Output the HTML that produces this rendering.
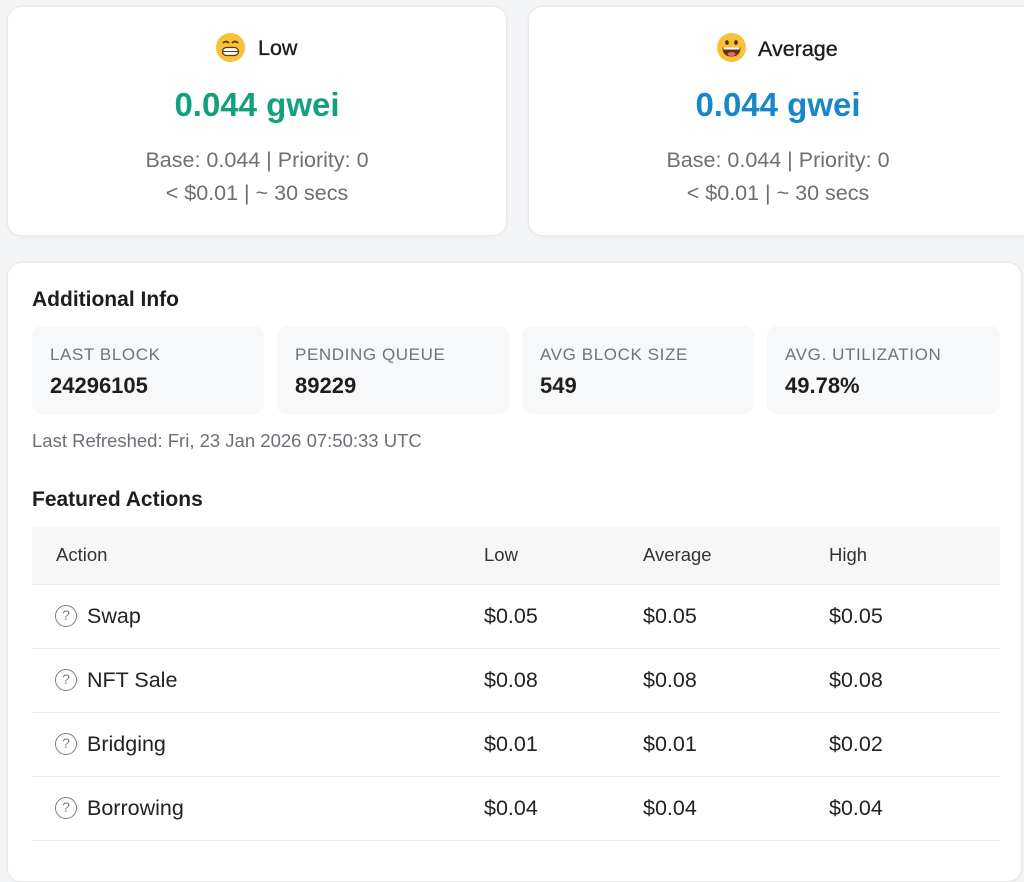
<!DOCTYPE html>
<html><head><meta charset="utf-8">
<style>
*{box-sizing:border-box;margin:0;padding:0}
body{width:1024px;height:843px;overflow:hidden;background:#f3f4f5;font-family:"Liberation Sans",Arial,sans-serif;color:#212121;position:relative}
.card{position:absolute;background:#fff;border-radius:14px;border:1px solid #e6e7e9;box-shadow:0 1px 3px rgba(0,0,0,0.04)}
.abs{position:absolute;white-space:nowrap}
.c{text-align:center}
.title{font-size:21.5px;line-height:24px;color:#1e1e1e;-webkit-text-stroke:0.35px #1e1e1e}
.big{font-size:33px;line-height:38px;font-weight:bold}
.sub{font-size:21.5px;line-height:26px;color:#6c6f75}
.h{font-size:21px;line-height:24px;font-weight:bold;color:#1e1e1e}
.stat{position:absolute;top:326px;width:232px;height:88px;background:#f7f8f9;border-radius:10px}
.stat .l{position:absolute;left:18px;top:19px;font-size:17px;line-height:20px;color:#707378;letter-spacing:0.6px;white-space:nowrap}
.stat .v{position:absolute;left:18px;top:47px;font-size:22px;line-height:26px;font-weight:bold;color:#1e1e1e}
.th{font-size:18.5px;line-height:22px;color:#333;top:544px}
.row{position:absolute;left:32px;width:968px;height:64px;border-bottom:1px solid #e9eaeb}
.row span{position:absolute;top:18px;font-size:21.5px;line-height:26px;color:#222;white-space:nowrap}
.q{position:absolute;left:23px;top:20px;width:22px;height:22px;border:1.8px solid #7a7d82;border-radius:50%;font-size:14px;color:#7a7d82;text-align:center;line-height:18px}
</style></head><body>

<!-- card 1 -->
<div class="card" style="left:7px;top:6px;width:500px;height:230px"></div>
<svg class="abs" style="left:215px;top:32px" width="31" height="31" viewBox="0 0 31 31">
<circle cx="15.5" cy="15.5" r="14.5" fill="#f8c136"/>
<path d="M8 11 q3 -3 6 0 M17 11 q3 -3 6 0" stroke="#5a3b12" stroke-width="1.8" fill="none"/>
<rect x="7.5" y="15.5" width="16" height="8" rx="4" fill="#fff" stroke="#5a3b12" stroke-width="1.3"/>
<line x1="7.5" y1="19.5" x2="23.5" y2="19.5" stroke="#5a3b12" stroke-width="1"/>
</svg>
<div class="abs title" style="left:258px;top:36px">Low</div>
<div class="abs c big" style="left:7px;width:500px;top:86px;color:#12a07e">0.044 gwei</div>
<div class="abs c sub" style="left:7px;width:500px;top:147px">Base: 0.044 | Priority: 0</div>
<div class="abs c sub" style="left:7px;width:500px;top:180px">&lt; $0.01 | ~ 30 secs</div>

<!-- card 2 -->
<div class="card" style="left:528px;top:6px;width:510px;height:230px"></div>
<svg class="abs" style="left:716px;top:32px" width="31" height="31" viewBox="0 0 31 31">
<circle cx="15.5" cy="15.5" r="14.5" fill="#f8c136"/>
<ellipse cx="11" cy="10.5" rx="1.8" ry="2.4" fill="#4a3010"/>
<ellipse cx="20" cy="10.5" rx="1.8" ry="2.4" fill="#4a3010"/>
<path d="M6.5 15.5 h18 q0 9 -9 9 q-9 0 -9 -9z" fill="#6b2e12"/>
<path d="M7.5 15.5 h16 v2 h-16z" fill="#fff"/>
<ellipse cx="15.5" cy="22" rx="4" ry="2" fill="#e46a6a"/>
</svg>
<div class="abs title" style="left:758px;top:37px">Average</div>
<div class="abs c big" style="left:528px;width:500px;top:86px;color:#1787c8">0.044 gwei</div>
<div class="abs c sub" style="left:528px;width:500px;top:147px">Base: 0.044 | Priority: 0</div>
<div class="abs c sub" style="left:528px;width:500px;top:180px">&lt; $0.01 | ~ 30 secs</div>

<!-- big card -->
<div class="card" style="left:7px;top:262px;width:1015px;height:620px"></div>
<div class="abs h" style="left:32px;top:288px">Additional Info</div>

<div class="stat" style="left:32px"><div class="l">LAST BLOCK</div><div class="v">24296105</div></div>
<div class="stat" style="left:277px"><div class="l">PENDING QUEUE</div><div class="v">89229</div></div>
<div class="stat" style="left:522px"><div class="l">AVG BLOCK SIZE</div><div class="v">549</div></div>
<div class="stat" style="left:767px;width:233px"><div class="l">AVG. UTILIZATION</div><div class="v">49.78%</div></div>

<div class="abs" style="left:32px;top:430px;font-size:18.5px;line-height:22px;color:#6c6f75">Last Refreshed: Fri, 23 Jan 2026 07:50:33 UTC</div>

<div class="abs h" style="left:32px;top:488px">Featured Actions</div>

<div class="abs" style="left:32px;top:526px;width:968px;height:59px;background:#f7f7f8;border-bottom:1px solid #e6e7e8"></div>
<div class="abs th" style="left:56px">Action</div>
<div class="abs th" style="left:484px">Low</div>
<div class="abs th" style="left:643px">Average</div>
<div class="abs th" style="left:829px">High</div>

<div class="row" style="top:585px"><div class="q">?</div><span style="left:55px">Swap</span><span style="left:452px">$0.05</span><span style="left:611px">$0.05</span><span style="left:797px">$0.05</span></div>
<div class="row" style="top:649px"><div class="q">?</div><span style="left:55px">NFT Sale</span><span style="left:452px">$0.08</span><span style="left:611px">$0.08</span><span style="left:797px">$0.08</span></div>
<div class="row" style="top:713px"><div class="q">?</div><span style="left:55px">Bridging</span><span style="left:452px">$0.01</span><span style="left:611px">$0.01</span><span style="left:797px">$0.02</span></div>
<div class="row" style="top:777px"><div class="q">?</div><span style="left:55px">Borrowing</span><span style="left:452px">$0.04</span><span style="left:611px">$0.04</span><span style="left:797px">$0.04</span></div>

</body></html>
